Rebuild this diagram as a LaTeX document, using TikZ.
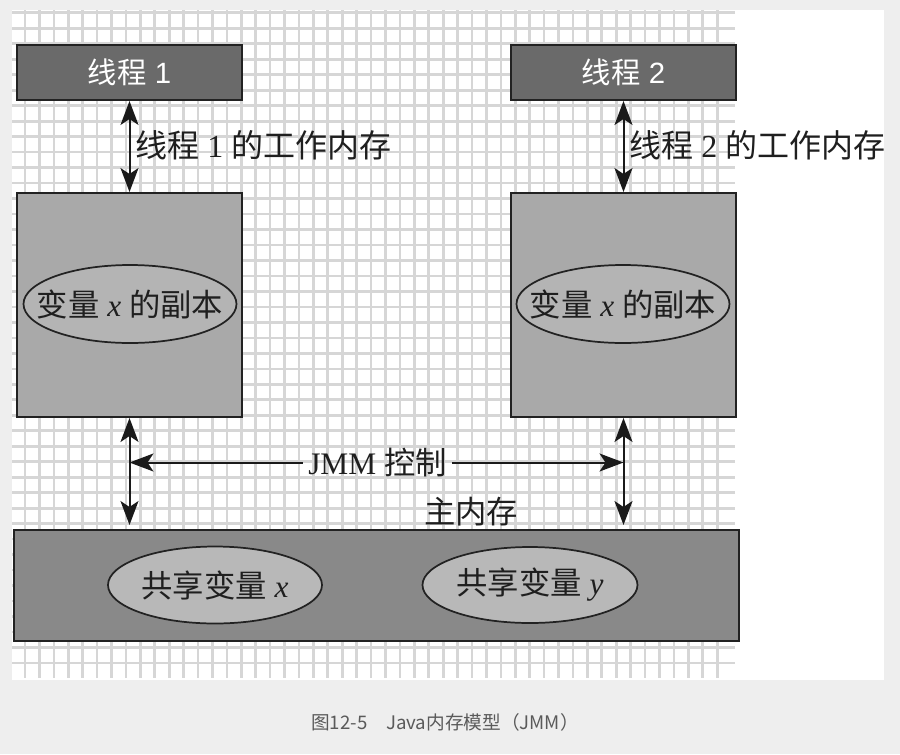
\documentclass[tikz,border=0pt]{standalone}
\usepackage{fontspec}
\setmainfont{Liberation Serif}
\setsansfont{Liberation Sans}
\newfontfamily\cjk{Noto Sans CJK SC}
\usetikzlibrary{arrows.meta,shapes.geometric}
\definecolor{bgc}{HTML}{EEEEEE}
\definecolor{gridc}{HTML}{D6D6D6}
\definecolor{hdrc}{HTML}{6A6A6A}
\definecolor{wboxc}{HTML}{A9A9A9}
\definecolor{welc}{HTML}{B4B4B4}
\definecolor{mainc}{HTML}{898989}
\definecolor{melc}{HTML}{B8B8B8}
\definecolor{edgec}{HTML}{222222}
\definecolor{arrc}{HTML}{1A1A1A}
\definecolor{capc}{HTML}{5A5A5A}
\tikzset{
  gridl/.style={gridc, line width=2pt},
  hdrbox/.style={draw=edgec, line width=1.5pt, fill=hdrc, minimum width=168.75pt, minimum height=41.25pt, inner sep=0pt, text=white, font=\sffamily\fontsize{22pt}{26pt}\selectfont},
  wbox/.style={draw=edgec, line width=1.5pt, fill=wboxc, minimum width=168.75pt, minimum height=168pt, inner sep=0pt},
  mbox/.style={draw=edgec, line width=1.5pt, fill=mainc, minimum width=543.75pt, minimum height=83.25pt, inner sep=0pt},
  ell/.style={ellipse, draw=edgec, line width=1.3pt, inner sep=0pt},
  txt/.style={inner sep=0pt, text=black!88, font=\fontsize{23.5pt}{28pt}\selectfont},
  lbl/.style={txt, font=\fontsize{24pt}{28pt}\selectfont},
  dar/.style={arrc, line width=1.5pt, {Stealth[length=18pt,width=13.5pt,inset=4.5pt]}-{Stealth[length=18pt,width=13.5pt,inset=4.5pt]}},
  sar/.style={arrc, line width=1.5pt, -{Stealth[length=18pt,width=13.5pt,inset=4.5pt]}},
}
\begin{document}
\begin{tikzpicture}[x=0.75pt,y=-0.75pt]
\useasboundingbox (0,0) rectangle (900,754);
\fill[bgc] (0,0) rectangle (900,754);
\fill[white] (12,10) rectangle (884,680);
\foreach \k in {0,...,48} \draw[gridl] ({25+14.42*\k},10) -- ({25+14.42*\k},678);
\foreach \k in {-1,...,41} \draw[gridl] (12,{28.3+15.48*\k}) -- (735,{28.3+15.48*\k});

% thread boxes
\node[hdrbox] (t1) at (129.5,72.5) {{\cjk 线程} 1};
\node[hdrbox] (t2) at (623.5,72.5) {{\cjk 线程} 2};

% working memory boxes
\node[wbox] (w1) at (129.5,305) {};
\node[wbox] (w2) at (623.5,305) {};
\node[ell, fill=welc, minimum width=159.75pt, minimum height=58.5pt] (e1) at (130,304) {};
\node[ell, fill=welc, minimum width=159.75pt, minimum height=58.5pt] (e2) at (623,304) {};
\node[txt] (e1t) at (e1.center) {{\cjk 变量} \textit{x} {\cjk 的副本}};
\node[txt] (e2t) at (e2.center) {{\cjk 变量} \textit{x} {\cjk 的副本}};

% main memory
\node[mbox] (mm) at (376.5,585.5) {};
\node[ell, fill=melc, minimum width=160.5pt, minimum height=57.75pt] (ex) at (215,585) {};
\node[ell, fill=melc, minimum width=161.25pt, minimum height=57pt] (ey) at (530,585) {};
\node[txt] (ext) at (ex.center) {{\cjk 共享变量} \textit{x}};
\node[txt] (eyt) at (ey.center) {{\cjk 共享变量} \textit{y}};

% labels
\node[lbl, anchor=west] (l1) at (135,145) {{\cjk 线程} 1 {\cjk 的工作内存}};
\node[lbl, anchor=west] (l2) at (629,145) {{\cjk 线程} 2 {\cjk 的工作内存}};
\node[txt, inner xsep=4pt] (jmm) at (377.5,462.5) {JMM {\cjk 控制}};
\node[txt] (zn) at (471,512) {\cjk 主内存};

% arrows
\draw[dar] (t1.south) -- (w1.north);
\draw[dar] (t2.south) -- (w2.north);
\coordinate (b1) at ([yshift=3pt]w1.south |- mm.north);
\coordinate (b2) at ([yshift=3pt]w2.south |- mm.north);
\draw[dar] (w1.south) -- (b1);
\draw[dar] (w2.south) -- (b2);
\coordinate (jl) at (w1.south |- jmm);
\coordinate (jr) at (w2.south |- jmm);
\draw[sar] (jmm.west) -- (jl);
\draw[sar] (jmm.east) -- (jr);

% caption
\node[inner sep=0pt, text=capc, font=\cjk\fontsize{14pt}{17pt}\selectfont] (cap) at (445,722) {图12-5　Java内存模型（JMM）};
\end{tikzpicture}
\end{document}
